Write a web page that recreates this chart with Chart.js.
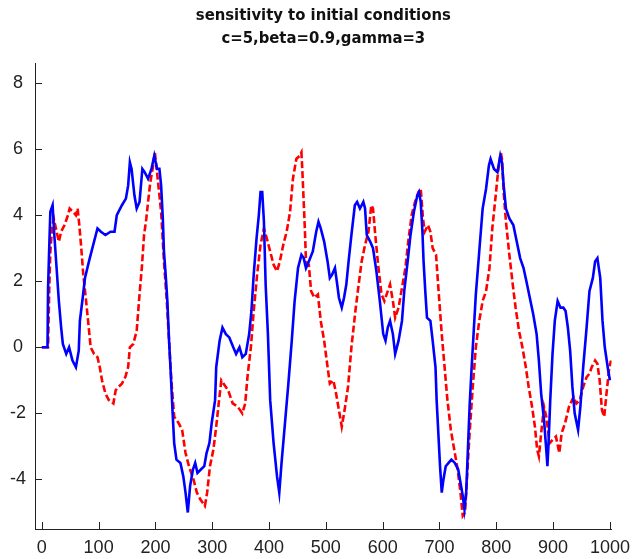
<!DOCTYPE html>
<html>
<head>
<meta charset="utf-8">
<script src="https://cdn.jsdelivr.net/npm/chart.js@4.4.0/dist/chart.umd.min.js"></script>
<style>
  html, body { margin: 0; padding: 0; background: #fff; }
  #wrap { width: 638px; height: 559px; }
</style>
</head>
<body>
<div id="wrap"><canvas id="chart" width="638" height="559"></canvas></div>
<script>
const titleLines = ["sensitivity to initial conditions", "c=5,beta=0.9,gamma=3"];
const xTicks = [0, 100, 200, 300, 400, 500, 600, 700, 800, 900, 1000];
const yTicks = [-4, -2, 0, 2, 4, 6, 8];

// blue solid run
const blueX = [0, 10, 11, 13, 15, 19, 22, 26, 30, 34, 37, 43, 48, 54, 60, 65, 67, 72, 76, 83, 89, 98,
  104, 112, 121, 128, 132, 141, 148, 152, 155, 158, 163, 167, 172, 177, 181, 187, 193, 198,
  203, 207, 210, 213, 215, 218, 221, 224, 227, 230, 233, 237, 244, 249, 253, 257, 261, 266, 270, 274, 280, 286, 290, 295, 299,
  305, 307, 313, 318, 324, 330, 337, 342, 348, 353, 359, 365, 369, 373, 378, 382, 385, 388, 391, 394, 398,
  402, 408, 414, 418, 422, 428, 434, 440, 445, 451, 457, 461, 465, 470, 477, 483, 487, 491, 497,
  503, 507, 511, 516, 520, 523, 528, 532, 536, 540, 545, 551, 555, 560, 566, 569, 572, 578, 583, 589, 595,
  601, 605, 609, 613, 618, 622, 628, 634, 638, 644, 649, 655, 661, 664, 667, 670, 672, 675, 678, 684, 688, 693, 695, 698,
  701, 704, 707, 711, 716, 721, 727, 733, 737, 741, 744, 747, 750, 753, 756, 760, 764, 770, 776, 782, 787, 790, 796,
  802, 807, 810, 813, 817, 823, 830, 836, 842, 848, 853, 859, 865, 871, 875, 879, 884, 888, 890, 892, 895, 899,
  903, 908, 913, 918, 922, 926, 930, 934, 938, 944, 948, 953, 959, 964, 970, 974, 978, 983, 987, 991, 997, 1000];
const blueY = [0, 0, 1.8, 3.0, 4.1, 4.3, 3.4, 2.4, 1.4, 0.6, 0.1, -0.2, 0.0, -0.4, -0.6, -0.1, 0.8, 1.5, 2.1, 2.6, 3.0, 3.6,
  3.5, 3.4, 3.5, 3.5, 4.0, 4.3, 4.5, 4.9, 5.6, 5.4, 4.6, 4.2, 4.4, 5.4, 5.3, 5.1, 5.4, 5.8,
  5.4, 5.4, 4.9, 3.9, 2.9, 2.2, 1.4, 0.2, -0.8, -1.9, -2.9, -3.4, -3.5, -3.9, -4.4, -5.0, -4.2, -3.7, -3.5, -3.8, -3.7, -3.6, -3.2, -2.9, -2.3,
  -1.6, -0.6, 0.2, 0.6, 0.4, 0.3, 0.0, -0.2, 0.0, -0.3, -0.2, 0.4, 1.1, 2.2, 3.3, 4.0, 4.7, 4.7, 3.8, 1.9, 0.4,
  -1.6, -2.9, -3.9, -4.4, -3.5, -2.3, -1.1, 0.2, 1.4, 2.4, 2.8, 2.7, 2.4, 2.6, 2.9, 3.5, 3.8, 3.6, 3.2,
  2.6, 2.1, 2.2, 2.4, 1.9, 1.5, 1.2, 1.5, 1.9, 2.6, 3.4, 4.3, 4.4, 4.2, 4.4, 4.2, 3.4, 3.2, 3.0, 2.3, 1.4,
  0.4, 0.2, 0.6, 0.8, 0.4, -0.2, 0.2, 0.8, 1.7, 2.6, 3.4, 4.1, 4.6, 4.7, 4.4, 3.5, 2.6, 1.7, 0.9, 0.8, 0.2, -0.6, -1.6, -2.6,
  -3.6, -4.4, -4.0, -3.6, -3.5, -3.4, -3.5, -3.7, -4.1, -4.5, -4.9, -4.4, -3.1, -1.8, -0.8, 0.4, 1.6, 2.9, 4.2, 4.8, 5.5, 5.7, 5.4,
  5.3, 5.8, 5.6, 4.9, 4.2, 3.9, 3.7, 3.2, 2.7, 2.4, 2.0, 1.5, 1.0, 0.4, -0.4, -1.4, -2.2, -3.1, -3.6, -2.9, -1.6, -0.2,
  0.8, 1.4, 1.2, 1.2, 1.1, 0.6, -0.1, -1.2, -2.0, -2.5, -1.8, -0.6, 0.6, 1.7, 2.1, 2.6, 2.7, 2.1, 0.8, 0.0, -0.7, -1.0];

// red dashed run
const redX = [0, 11, 13, 15, 18, 21, 26, 30, 34, 40, 46, 49, 55, 60, 63, 66, 69, 73, 78, 82, 86, 92, 98,
  102, 106, 112, 118, 126, 130, 135, 141, 147, 152, 155, 161, 167, 172, 176, 180, 184, 187, 191, 195, 199,
  204, 210, 215, 220, 224, 228, 233, 241, 247, 253, 259, 267, 273, 279, 287, 291, 296,
  302, 307, 312, 316, 320, 328, 336, 345, 353, 358, 362, 368, 373, 379, 385, 391, 396,
  402, 408, 414, 419, 425, 431, 437, 442, 448, 454, 457, 459, 461, 463, 465, 470, 474, 480, 486, 491, 497,
  503, 507, 513, 517, 523, 528, 533, 539, 545, 552, 557, 563, 569, 575, 580, 583, 587, 592, 598,
  603, 609, 613, 618, 622, 628, 634, 640, 645, 651, 657, 663, 667, 671, 674, 680, 684, 688, 694, 698,
  704, 709, 714, 720, 726, 732, 737, 741, 745, 749, 753, 759, 764, 770, 776, 782, 788, 793, 799,
  803, 808, 810, 813, 817, 823, 829, 834, 840, 846, 852, 857, 863, 868, 872, 875, 879, 884, 888, 894, 899,
  905, 911, 915, 921, 928, 936, 941, 947, 953, 959, 964, 968, 974, 978, 982, 986, 990, 994, 999, 1002];
const redY = [0, 0, 1.7, 2.9, 3.6, 3.9, 3.5, 3.2, 3.5, 3.7, 4.0, 4.2, 4.1, 4.0, 4.2, 3.7, 3.1, 2.2, 1.4, 0.7, 0.0, -0.2, -0.3,
  -0.6, -1.0, -1.4, -1.6, -1.7, -1.3, -1.2, -1.1, -0.9, -0.6, 0.0, 0.1, 0.5, 1.6, 2.4, 3.4, 3.9, 4.4, 5.0, 5.4, 5.9,
  5.1, 4.1, 2.6, 1.4, 0.2, -1.0, -2.1, -2.3, -2.5, -3.2, -3.6, -4.0, -4.4, -4.6, -4.8, -4.4, -3.6,
  -3.1, -2.4, -1.6, -1.0, -1.1, -1.3, -1.7, -1.8, -2.0, -1.7, -0.9, 0.0, 1.1, 2.2, 3.1, 3.6, 3.3,
  2.9, 2.5, 2.3, 2.6, 3.1, 3.5, 4.1, 5.1, 5.7, 5.8, 5.9, 5.2, 4.4, 3.6, 2.6, 2.5, 1.7, 1.5, 1.6, 0.8, 0.2,
  -0.6, -1.1, -1.0, -1.3, -1.9, -2.4, -1.9, -1.2, 0.0, 1.1, 1.8, 2.6, 3.1, 3.5, 4.3, 4.2, 3.4, 2.5, 1.6,
  1.4, 1.7, 1.9, 1.4, 0.9, 1.2, 1.8, 2.4, 3.2, 4.0, 4.4, 4.7, 4.8, 3.9, 3.5, 3.7, 3.5, 3.0, 2.8, 1.8,
  0.4, -0.6, -1.6, -2.5, -3.1, -3.7, -4.4, -5.1, -5.0, -3.8, -2.6, -1.1, 0.0, 0.8, 1.4, 1.7, 2.4, 3.6, 4.6,
  5.3, 5.9, 5.7, 4.7, 3.8, 2.8, 1.9, 1.2, 0.5, 0.0, -0.6, -1.2, -1.8, -2.4, -3.1, -3.3, -2.6, -1.8, -2.1, -2.9, -2.8,
  -2.7, -3.2, -2.6, -2.3, -1.8, -1.5, -1.7, -1.6, -1.2, -0.9, -0.8, -0.6, -0.4, -0.5, -1.0, -1.9, -2.1, -1.4, -0.6, -0.4];

function toPoints(xs, ys) {
  return xs.map((x, i) => ({x: x, y: ys[i]}));
}

// ticks point into the plot, like the old figure
const inwardTicks = {
  id: 'inwardTicks',
  beforeDatasetsDraw(chart) {
    const {ctx, chartArea: a, scales: {x, y}} = chart;
    ctx.save();
    ctx.strokeStyle = '#222';
    ctx.lineWidth = 1;
    ctx.beginPath();
    xTicks.forEach((v) => {
      const px = Math.round(x.getPixelForValue(v)) + 0.5;
      ctx.moveTo(px, a.bottom);
      ctx.lineTo(px, a.bottom - 7);
    });
    yTicks.forEach((v) => {
      const py = Math.round(y.getPixelForValue(v)) + 0.5;
      ctx.moveTo(a.left, py);
      ctx.lineTo(a.left + 7, py);
    });
    ctx.stroke();
    ctx.restore();
  }
};

const tickFont = {family: "'Liberation Sans', Arial, sans-serif", size: 18};

new Chart(document.getElementById('chart'), {
  type: 'line',
  data: {
    datasets: [
      {
        label: 'x0',
        data: toPoints(blueX, blueY),
        borderColor: '#0000ff',
        borderWidth: 2.6,
        pointRadius: 0,
        tension: 0,
        order: 1
      },
      {
        label: 'x0 + eps',
        data: toPoints(redX, redY),
        borderColor: '#ff0000',
        borderWidth: 2.6,
        borderDash: [7, 3],
        pointRadius: 0,
        tension: 0,
        order: 2
      }
    ]
  },
  options: {
    responsive: false,
    animation: false,
    events: [],
    layout: {padding: {left: 0, right: 15, top: 0, bottom: 0}},
    plugins: {
      legend: {display: false},
      tooltip: {enabled: false},
      title: {
        display: true,
        fullSize: false,
        text: titleLines,
        color: '#111',
        font: {family: "'Liberation Sans Narrow', 'Arial Narrow', 'DejaVu Sans Condensed', sans-serif", size: 16.5, weight: 'bold', lineHeight: 1.4},
        padding: {top: 4, bottom: 13}
      }
    },
    scales: {
      x: {
        type: 'linear',
        min: -12,
        max: 1003,
        afterFit: (s) => { s.height = 30; },
        afterBuildTicks: (s) => { s.ticks = xTicks.map((v) => ({value: v})); },
        grid: {drawOnChartArea: false, drawTicks: false},
        border: {display: true, color: '#222', width: 1},
        ticks: {color: '#222', font: tickFont, padding: 8, maxRotation: 0, autoSkip: false,
          callback: (v) => String(v)}
      },
      y: {
        type: 'linear',
        min: -5.5,
        max: 8.6,
        afterFit: (s) => { s.width = 35; },
        afterBuildTicks: (s) => { s.ticks = yTicks.map((v) => ({value: v})); },
        grid: {drawOnChartArea: false, drawTicks: false},
        border: {display: true, color: '#222', width: 1},
        ticks: {color: '#222', font: tickFont, padding: 9, crossAlign: 'center',
          callback: (v) => String(v)}
      }
    }
  },
  plugins: [inwardTicks]
});
</script>
</body>
</html>
